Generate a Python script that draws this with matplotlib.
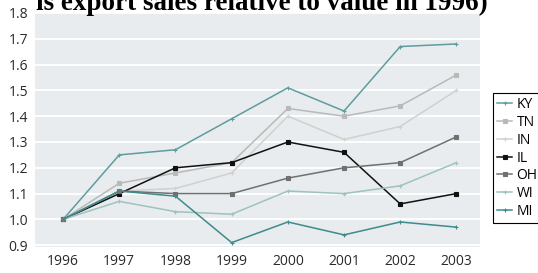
import matplotlib
matplotlib.use("Agg")
import matplotlib.pyplot as plt

years = [1996, 1997, 1998, 1999, 2000, 2001, 2002, 2003]
states = ["KY", "TN", "IN", "IL", "OH", "WI", "MI"]
ky = [1.00, 1.25, 1.27, 1.39, 1.51, 1.42, 1.67, 1.68]
tn = [1.00, 1.14, 1.18, 1.22, 1.43, 1.40, 1.44, 1.56]
in_ = [1.00, 1.11, 1.12, 1.18, 1.40, 1.31, 1.36, 1.50]
il = [1.00, 1.10, 1.20, 1.22, 1.30, 1.26, 1.06, 1.10]
oh = [1.00, 1.11, 1.10, 1.10, 1.16, 1.20, 1.22, 1.32]
wi = [1.00, 1.07, 1.03, 1.02, 1.11, 1.10, 1.13, 1.22]
mi = [1.00, 1.11, 1.09, 0.91, 0.99, 0.94, 0.99, 0.97]
series = [ky, tn, in_, il, oh, wi, mi]
colors = ["#5f9c9e", "#b9b9b9", "#d0d0d0", "#111111", "#707070", "#9fc2bd", "#3f8a8c"]
markers = ["+", "s", "+", "s", "s", "+", "+"]

plt.rcParams["font.family"] = ["Open Sans", "DejaVu Sans"]

fig = plt.figure(figsize=(5.38, 2.73), dpi=100)
ax = fig.add_axes([35 / 538, 26 / 273, 445 / 538, 234 / 273])
ax.set_facecolor("#e8ecef")
for name, vals, col, mk in zip(states, series, colors, markers):
    ax.plot(years, vals, color=col, lw=1.1, marker=mk, markersize=3,
            markeredgewidth=0.8, label=name)

ax.set_xlim(1995.5, 2003.42)
ax.set_ylim(0.893, 1.8)
ax.set_xticks(years)
ax.set_yticks([0.9, 1.0, 1.1, 1.2, 1.3, 1.4, 1.5, 1.6, 1.7, 1.8])
ax.set_yticklabels(["0.9", "1.0", "1.1", "1.2", "1.3", "1.4", "1.5", "1.6", "1.7", "1.8"])
ax.yaxis.grid(True, color="white", lw=1.3)
ax.set_axisbelow(True)
for s in ax.spines.values():
    s.set_visible(False)
ax.tick_params(length=0, labelsize=10, colors="#2a2a2a", pad=5)

# title is cut off at the top edge in the source image
fig.text(36 / 538, 1 - 9.5 / 273, "is export sales relative to value in 1996)",
         family="Liberation Serif", fontsize=19.5, fontweight="bold", va="baseline")

leg = ax.legend(loc="upper left", bbox_to_anchor=(493 / 538, 1 - 93 / 273),
                bbox_transform=fig.transFigure, borderaxespad=0,
                fontsize=10, handlelength=1.1, handletextpad=0.3,
                labelspacing=0.2, borderpad=0.3,
                fancybox=False, framealpha=1, edgecolor="black")
leg.get_frame().set_linewidth(0.8)

fig.savefig("out.png", dpi=100)
